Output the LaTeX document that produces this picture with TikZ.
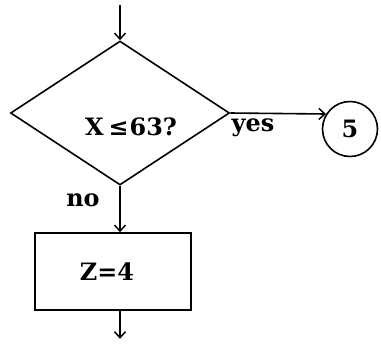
\documentclass[tikz,border=0pt]{standalone}
\usepackage{fontspec}
\setmainfont{DejaVu Serif}
\usetikzlibrary{shapes.geometric,arrows.meta}
\begin{document}
\begin{tikzpicture}[x=1bp,y=-1bp,
  line/.style={line width=1.6bp},
  arr/.style={line, -{Straight Barb[length=6bp,width=11bp,line width=1.5bp]}},
  lbl/.style={font=\fontsize{24}{28}\selectfont\bfseries, inner sep=0pt},
  dec/.style={diamond, draw, line, minimum width=219bp, minimum height=144bp, inner sep=0pt},
  proc/.style={rectangle, draw, line, minimum width=156bp, minimum height=77bp, inner sep=0pt},
  conn/.style={circle, draw, line, minimum size=55bp, inner sep=0pt}]
\useasboundingbox (0,0) rectangle (381,347);
\coordinate (top) at (120,5);
\node[dec] (d) at (120,113) {};
\node[lbl] (q) at (131,127) {X\kern5bp≤\kern1bp 63?};
\node[conn, lbl] (c) at (350,129) {5};
\node[proc] (r) at (113,271.5) {};
\node[lbl] (z) at (107,272) {Z=4};
\node[lbl] (yes) at (253,128) {yes};
\node[lbl] (no) at (83,200) {no};
\coordinate (bot) at ([yshift=-28bp]r.south -| d.south);
\draw[arr] (top) -- (d.north);
\draw[arr] (d.east) -- (c.148);
\draw[arr] (d.south) -- (d.south |- r.north);
\draw[arr] (d.south |- r.south) -- (bot);
\end{tikzpicture}
\end{document}
